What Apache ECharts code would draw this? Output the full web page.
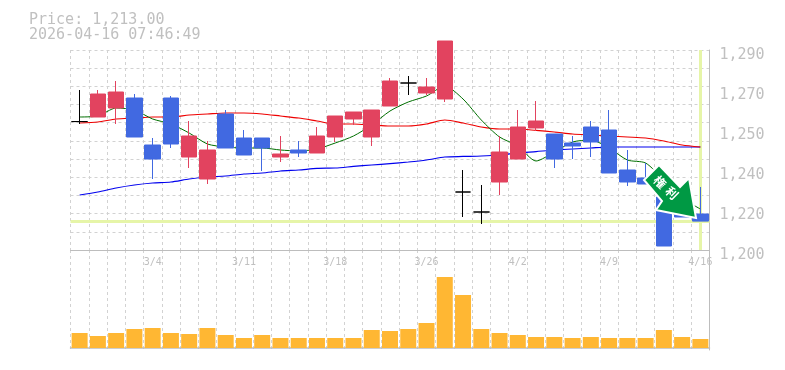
<!DOCTYPE html>
<html><head><meta charset="utf-8"><style>html,body{margin:0;background:#fff}#c{width:785px;height:370px}</style>
<script src="https://cdn.jsdelivr.net/npm/echarts@6/dist/echarts.min.js"></script></head>
<body><div id="c"></div><script>
const headerLines = ['Price: 1,213.00', '2026-04-16 07:46:49'];
const dates = ['2/26','2/27','3/2','3/3','3/4','3/5','3/6','3/9','3/10','3/11','3/12','3/13','3/16','3/17','3/18','3/19','3/23','3/24','3/25','3/26','3/27','3/30','3/31','4/1','4/2','4/3','4/6','4/7','4/8','4/9','4/10','4/13','4/14','4/15','4/16'];
const labelledDates = ['3/4','3/11','3/18','3/26','4/2','4/9','4/16'];
const priceTickLabels = ['1,200','1,220','1,240','1,250','1,270','1,290'];
const opens  = [1257.8,1259.85,1263.9,1268.4,1247.25,1268.4,1241.85,1231.95,1261.2,1250.4,1250.4,1241.85,1245,1243.65,1250.85,1258.95,1250.85,1264.8,1275.15,1270.65,1267.95,1226.1,1217.1,1230.6,1240.95,1254.9,1252.2,1248.15,1255.35,1254,1236,1232.4,1223.85,1220.25,1216.2];
const closes = [1257.8,1270.2,1271.1,1250.85,1240.95,1247.7,1251.3,1245,1245.9,1242.75,1245.9,1243.2,1243.65,1251.3,1260.3,1262.1,1263,1276.05,1275.15,1273.35,1294.05,1226.1,1217.1,1244.1,1255.35,1258.05,1240.95,1246.8,1248.6,1234.65,1230.6,1229.7,1201.8,1214.85,1213];
const lows   = [1256.7,1259.85,1256.7,1250.85,1231.95,1245.9,1236.9,1229.7,1245.9,1242.75,1235.55,1239.6,1241.85,1243.65,1248.6,1256.25,1246.8,1264.8,1269.75,1269.75,1266.6,1214.85,1211.7,1224.75,1240.95,1253.55,1236.9,1240.95,1241.85,1234.65,1228.8,1229.7,1201.8,1214.85,1213];
const highs  = [1272,1272,1276.05,1270.2,1250.4,1269.3,1258.05,1249.05,1263,1254,1250.4,1251.3,1249.05,1255.35,1260.3,1262.1,1263,1277.4,1278.3,1277.4,1294.05,1236,1229.25,1251.3,1263,1267.05,1252.2,1251.3,1258.05,1263,1245,1239.15,1224.75,1222.5,1228.35];
const shortAverage = [1259.85,1260.3,1263.9,1263,1258.95,1256.7,1252.65,1247.7,1246.35,1245.9,1245.9,1245,1244.55,1245.45,1248.15,1251.3,1256.25,1262.55,1266.6,1269.3,1273.8,1267.95,1258.5,1250.85,1246.8,1240.05,1244.1,1248.6,1249.5,1245.9,1240.5,1239.15,1231.5,1223.4,1218.45];
const midAverage = [1257.15,1257.6,1258.95,1259.4,1259.85,1259.85,1260.75,1261.2,1261.65,1261.65,1261.2,1260.3,1259.4,1258.05,1256.7,1256.7,1256.25,1255.8,1255.8,1256.7,1258.5,1257.15,1255.35,1254.45,1254.45,1253.8,1253.1,1252.2,1251.75,1251.3,1250.85,1250.4,1249.05,1247.25,1246.35];
const longAverage = [1224.75,1226.1,1227.9,1229.25,1230.15,1230.6,1231.95,1232.85,1233.3,1234.2,1234.65,1235.55,1236,1236.7,1236.9,1237.6,1238.25,1238.9,1239.6,1240.5,1241.85,1242.1,1242.3,1242.75,1243.65,1244.3,1245,1245.45,1245.9,1246.35,1246.35,1246.35,1246.35,1246.35,1246.35];
const volumes = [15,12,15,19,20,15,14,20,13,10,13,10,10,10,10,10,18,17,19,25,71,53,19,15,13,11,11,10,11,10,10,10,18,11,9];
const currentPrice = 1213;
const currentDate = '4/16';
const badgeChars = ['権','利'];

const GREY = '#bdbdbd', GRIDC = '#d2d2d2', UP = '#e2435f', DOWN = '#4169e1', LIME = '#e6f5a8', TEXTC = '#c0c0c0';
const MONO = '"DejaVu Sans Mono", monospace';
const dash = { color: GRIDC, type: [3, 3], width: 1 };
const chart = echarts.init(document.getElementById('c'), null, { renderer: 'canvas' });
const line = (name, data, color, width) => ({
  name, type: 'line', data, xAxisIndex: 0, yAxisIndex: 0, symbol: 'none', smooth: 0.25, z: 3, silent: true,
  lineStyle: { color, width }
});
const glyph = (ch, x, y) => ({
  type: 'text', z: 51, silent: true, x, y, rotation: -Math.PI / 4,
  style: { text: ch, fill: '#fff', fontFamily: '"Noto Sans CJK JP"', fontWeight: 'bold', fontSize: 12, align: 'center', verticalAlign: 'middle' }
});
chart.setOption({
  animation: false,
  backgroundColor: '#fff',
  title: {
    text: headerLines.join('\n'), left: 29, top: 13, padding: 0,
    textStyle: { fontFamily: MONO, fontSize: 15, fontWeight: 'normal', color: TEXTC, lineHeight: 15 }
  },
  grid: [
    { left: 70.5, width: 639, top: 50, height: 200 },
    { left: 70.5, width: 639, top: 250, height: 100 }
  ],
  xAxis: [
    { type: 'category', gridIndex: 0, data: dates, boundaryGap: true,
      axisLine: { show: true, lineStyle: { color: GREY, width: 1 } }, axisTick: { show: false },
      splitLine: { show: true, interval: 0, lineStyle: dash },
      axisLabel: { margin: 7, color: TEXTC, fontFamily: MONO, fontSize: 10, hideOverlap: false,
        interval: (i, v) => labelledDates.includes(v) } },
    { type: 'category', gridIndex: 1, data: dates, boundaryGap: true,
      axisLine: { show: true, lineStyle: { color: GREY, width: 1.5 } }, axisTick: { show: false },
      axisLabel: { show: false },
      splitLine: { show: true, interval: 0, lineStyle: dash } }
  ],
  yAxis: [
    { type: 'value', gridIndex: 0, position: 'right', min: 1200, max: 1290, interval: 18, scale: true,
      axisLine: { show: true, onZero: false, lineStyle: { color: GREY, width: 1 } }, axisTick: { show: false },
      splitLine: { show: false },
      axisLabel: { margin: 10, color: TEXTC, fontFamily: MONO, fontSize: 15, verticalAlign: 'top', lineHeight: 10,
        formatter: (v, i) => priceTickLabels[i] } },
    { type: 'value', gridIndex: 0, position: 'left', min: 0, max: 11, interval: 1,
      axisLine: { show: false }, axisTick: { show: false }, axisLabel: { show: false },
      splitLine: { show: true, lineStyle: dash } },
    { type: 'value', gridIndex: 1, position: 'right', min: -2, max: 98,
      axisLine: { show: true, onZero: false, lineStyle: { color: GREY, width: 1 } }, axisTick: { show: false },
      axisLabel: { show: false }, splitLine: { show: false } }
  ],
  series: [
    { name: 'current', type: 'line', data: [], xAxisIndex: 0, yAxisIndex: 0, z: 2, silent: true,
      markLine: { silent: true, symbol: 'none', label: { show: false }, animation: false, z: 2,
        lineStyle: { color: LIME, type: 'solid', width: 3 },
        data: [{ yAxis: currentPrice }, { xAxis: currentDate }] } },
    line('long', longAverage, '#0000ee', 1.2),
    line('mid', midAverage, '#ee0000', 1.2),
    line('short', shortAverage, '#006f00', 1),
    { name: 'price', type: 'candlestick', xAxisIndex: 0, yAxisIndex: 0, clip: false, z: 4, barWidth: 16, silent: true,
      data: opens.map((o, i) => [o, closes[i], lows[i], highs[i]]),
      itemStyle: { color: UP, borderColor: UP, color0: DOWN, borderColor0: DOWN, borderColorDoji: '#000', borderWidth: 1 } },
    { name: 'volume', type: 'bar', xAxisIndex: 1, yAxisIndex: 2, data: volumes, barWidth: 16, silent: true,
      itemStyle: { color: '#ffb733' } }
  ],
  graphic: [
    { type: 'polygon', z: 50, silent: true,
      shape: { points: [[659,165],[644,180],[662,201],[656,210],[696,218],[689,178],[680,187]] },
      style: { fill: '#009944', stroke: '#fff', lineWidth: 2, lineJoin: 'miter' } },
    glyph(badgeChars[0], 660, 182),
    glyph(badgeChars[1], 672, 193)
  ]
});
</script></body></html>
